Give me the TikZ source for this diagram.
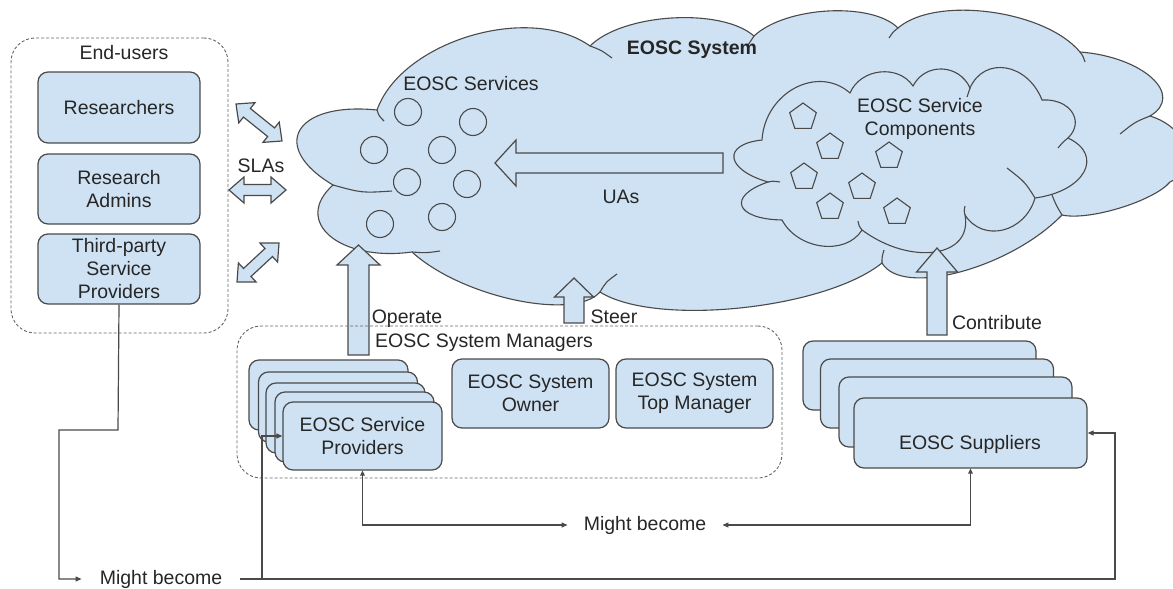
\documentclass[tikz,border=0pt]{standalone}
\usepackage{fontspec}
\setmainfont{Liberation Sans}
\usetikzlibrary{calc,shapes.geometric,arrows.meta}
\definecolor{boxfill}{HTML}{CFE2F3}
\definecolor{edge}{HTML}{4A4A4A}
\definecolor{txt}{HTML}{262626}
\newcommand\lobe[3]{.. controls ($0.1333*(#1)+1.3333*(#2)-0.4667*(#3)$) and ($1.3333*(#2)+0.1333*(#3)-0.4667*(#1)$) .. (#3)}
\newcommand\sgl[5]{%
 \coordinate (q) at ($(#2)!#5!(#1)$);
 \draw[blk] (#2) -- ($(q)!#4!90:(#1)$) -- ($(q)!#3!90:(#1)$) -- ($(#1)!#3!-90:(#2)$) -- ($(#1)!#3!90:(#2)$) -- ($(q)!#3!-90:(#1)$) -- ($(q)!#4!-90:(#1)$) -- cycle;}
\newcommand\dbl[5]{%
 \coordinate (qa) at ($(#1)!#5!(#2)$);
 \coordinate (qb) at ($(#2)!#5!(#1)$);
 \draw[blk] (#1) -- ($(qa)!#4!90:(#2)$) -- ($(qa)!#3!90:(#2)$) -- ($(qb)!#3!-90:(#1)$) -- ($(qb)!#4!-90:(#1)$) -- (#2) -- ($(qb)!#4!90:(#1)$) -- ($(qb)!#3!90:(#1)$) -- ($(qa)!#3!-90:(#2)$) -- ($(qa)!#4!-90:(#2)$) -- cycle;}
\begin{document}
\begin{tikzpicture}[x=1pt,y=-1pt,
  every node/.style={text=txt,font=\fontsize{19.5}{23}\selectfont},
  rbox/.style={draw=edge,fill=boxfill,line width=1.2pt,rounded corners=10pt,inner sep=0pt,align=center},
  dashbox/.style={draw=edge!85,line width=0.9pt,dash pattern=on 3pt off 2pt,rounded corners=24pt,inner sep=0pt},
  cloudfill/.style={draw=edge,fill=boxfill,line width=1.1pt},
  cloudline/.style={draw=edge,line width=1.1pt},
  blk/.style={draw=edge,fill=boxfill,line width=1.2pt,line join=miter},
  conn/.style={draw=edge,line width=1.2pt},
  endtip/.style={-{Triangle[length=6pt,width=5pt]}},
  bothtip/.style={{Triangle[length=5pt,width=4.5pt]}-{Triangle[length=6pt,width=5pt]}},
  circ/.style={circle,draw=edge,line width=1.1pt,minimum size=27pt,inner sep=0pt},
  pent/.style={regular polygon,regular polygon sides=5,draw=edge,line width=1.1pt,minimum size=28pt,inner sep=0pt},
  lbl/.style={align=center,inner sep=0pt}]
\useasboundingbox (0,0) rectangle (1173,589);

% ---------- big cloud (EOSC System)
\path[cloudfill] (333,185) \lobe{333,185}{300,130}{377,110} \lobe{377,110}{470,36}{590,46}
  \lobe{590,46}{672,18}{754,36} \lobe{754,36}{828,11}{898,28} \lobe{898,28}{990,12}{1080,52}
  \lobe{1080,52}{1152,78}{1150,116} \lobe{1150,116}{1186,148}{1170,182}
  \lobe{1170,182}{1120,208}{1062,215} \lobe{1062,215}{960,272}{882,263}
  \lobe{882,263}{740,308}{600,292} \lobe{600,292}{515,300}{412,252}
  \lobe{412,252}{330,236}{333,185} -- cycle;
\draw[cloudline] (333,185) .. controls (362,193) .. (392,191);
\draw[cloudline] (412,252) .. controls (426,253) .. (440,251);
\draw[cloudline] (377,110) .. controls (379,116) .. (384,121);
\draw[cloudline] (590,46) .. controls (601,50) .. (612,58);
\draw[cloudline] (754,36) .. controls (751,40) .. (748,45);
\draw[cloudline] (898,28) .. controls (893,32) .. (889,38);
\draw[cloudline] (1080,52) .. controls (1083,56) .. (1085,62);
\draw[cloudline] (1150,116) .. controls (1135,122) .. (1120,134);
\draw[cloudline] (1062,215) .. controls (1056,205) .. (1052,195);
\draw[cloudline] (882,263) .. controls (882,257) .. (884,250);
\draw[cloudline] (600,292) .. controls (606,282) .. (617,274);

% ---------- small cloud (EOSC Service Components)
\path[cloudfill] (762,140) \lobe{762,140}{795,88}{850,93} \lobe{850,93}{880,72}{913,86}
  \lobe{913,86}{942,69}{970,88} \lobe{970,88}{1006,68}{1042,100} \lobe{1042,100}{1072,112}{1068,138}
  \lobe{1068,138}{1084,172}{1035,198} \lobe{1035,198}{1003,230}{965,215}
  \lobe{965,215}{935,252}{862,230} \lobe{862,230}{822,246}{782,220}
  \lobe{782,220}{742,206}{768,182} \lobe{768,182}{734,158}{762,140} -- cycle;
\draw[cloudline] (970,88) .. controls (968,92) .. (967,97);
\draw[cloudline] (1068,138) .. controls (1063,142) .. (1058,148);
\draw[cloudline] (1035,198) .. controls (1025,182) .. (1007,168);
\draw[cloudline] (965,215) .. controls (964,211) .. (965,206);
\draw[cloudline] (862,230) .. controls (859,226) .. (858,221);
\draw[cloudline] (768,182) .. controls (773,181) .. (780,182);

\node[lbl,font=\fontsize{19.5}{23}\selectfont\bfseries] (sysl) at (692,50) {EOSC System};
\node[lbl] (svcl) at (471,84) {EOSC Services};
\node[lbl] (compl) at (920,119) {EOSC Service\\Components};

% service circles
\foreach \p [count=\i] in {(408,112),(473,122),(374,150),(442,150),(407,182),(467,184),(380,224),(442,217)}
  \node[circ] (svc\i) at \p {};
% component pentagons
\foreach \p [count=\i] in {(803,117),(830,147),(889,156),(804,177),(862,187),(830,207),(897,212)}
  \node[pent] (cmp\i) at \p {};

% ---------- block arrows
\coordinate (uaT) at (723,163); \coordinate (uaH) at (495,163);
\sgl{uaT}{uaH}{10pt}{23pt}{21pt}
\node[lbl] (ual) at (621,197) {UAs};
\coordinate (opT) at (358.5,355); \coordinate (opH) at (358.5,245);
\sgl{opT}{opH}{10.5pt}{21.5pt}{20pt}
\node[lbl] (opl) at (407,319) {Operate};
\coordinate (stT) at (574,323); \coordinate (stH) at (574,278);
\sgl{stT}{stH}{10pt}{19.5pt}{19pt}
\node[lbl] (stl) at (614,317) {Steer};
\coordinate (coT) at (937,335); \coordinate (coH) at (937,248);
\sgl{coT}{coH}{10pt}{20.5pt}{24pt}
\node[lbl] (col) at (997,323) {Contribute};

% ---------- end users
\node[dashbox,minimum width=217pt,minimum height=295pt] (eu) at (119.5,185.5) {};
\node[lbl] (eul) at (124,53) {End-users};
\node[rbox,minimum width=162pt,minimum height=71pt] (res) at (119,107.5) {Researchers};
\node[rbox,minimum width=162pt,minimum height=70pt] (adm) at (119,189) {Research\\Admins};
\node[rbox,minimum width=162pt,minimum height=70pt] (tp) at (119,269) {Third-party\\Service\\Providers};

% SLAs double arrows
\coordinate (s1a) at (236,104); \coordinate (s1b) at (282,141);
\dbl{s1a}{s1b}{5.5pt}{13pt}{14pt}
\coordinate (s2a) at (229,190); \coordinate (s2b) at (286,190);
\dbl{s2a}{s2b}{5.5pt}{13pt}{15pt}
\coordinate (s3a) at (237,282); \coordinate (s3b) at (279,243);
\dbl{s3a}{s3b}{5.5pt}{13pt}{14pt}
\node[lbl] (slal) at (261,166) {SLAs};

% ---------- system managers
\node[dashbox,minimum width=545pt,minimum height=152pt] (mgr) at (509.5,402) {};
\node[lbl] (mgrl) at (484,343) {EOSC System Managers};
\node[rbox,minimum width=159pt,minimum height=70pt] (sp1) at (328.5,395) {};
\node[rbox,minimum width=159pt,minimum height=70pt] (sp2) at (338,407) {};
\node[rbox,minimum width=159pt,minimum height=70pt] (sp3) at (345.5,418) {};
\node[rbox,minimum width=159pt,minimum height=70pt] (sp4) at (354.5,427) {};
\node[rbox,minimum width=159pt,minimum height=68pt] (sp5) at (362.5,436) {EOSC Service\\Providers};
\node[rbox,minimum width=157pt,minimum height=69pt] (own) at (530.5,393.5) {EOSC System\\Owner};
\node[rbox,minimum width=157pt,minimum height=69pt] (top) at (694.5,393.5) {EOSC System\\Top Manager};

% ---------- suppliers
\node[rbox,minimum width=233pt,minimum height=69pt] (su1) at (919.5,375.5) {};
\node[rbox,minimum width=233pt,minimum height=69pt] (su2) at (937,393.5) {};
\node[rbox,minimum width=233pt,minimum height=70pt] (su3) at (955.5,412) {};
\node[rbox,minimum width=233pt,minimum height=70pt] (su4) at (970.5,433) {};
\node[lbl] (sul) at (970,444) {EOSC Suppliers};

% ---------- might become connectors
\node[lbl,inner xsep=18pt] (mb1) at (161,579) {Might become};
\node[lbl,inner xsep=16pt] (mb2) at (645,525) {Might become};
\coordinate (tpd) at (118,430);
\coordinate (tpl) at (59,430);
\draw[conn,endtip] (tp.south) -- (tpd) -- (tpl) |- (mb1.west);
\coordinate (j1) at (262,579);
\coordinate (c2) at (1115,579);
\draw[conn,endtip] (mb1.east) -- (c2) |- (su4.east);
\draw[conn,endtip] (j1) |- (sp5.west);
\draw[conn,bothtip] (sp5.south) |- (mb2.west);
\draw[conn,bothtip] (su4.south) |- (mb2.east);
\end{tikzpicture}
\end{document}
